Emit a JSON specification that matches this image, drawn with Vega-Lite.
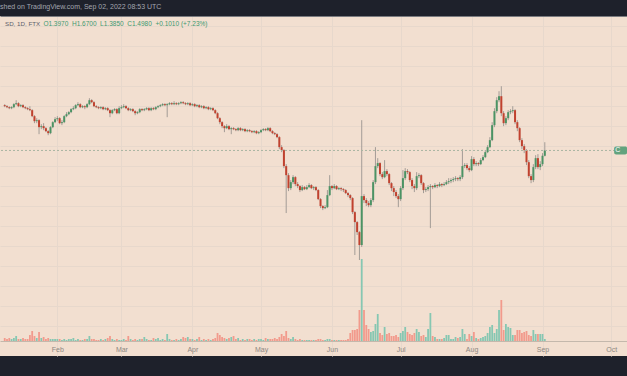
{
  "$schema": "https://vega.github.io/schema/vega-lite/v6.json",
  "width": 627,
  "height": 340,
  "autosize": {"type": "none"},
  "padding": {"top": 16, "left": 0, "right": 0, "bottom": 20},
  "background": "#1e212b",
  "title": {"text": "shed on TradingView.com, Sep 02, 2022 08:53 UTC", "anchor": "start", "frame": "group", "font": "Liberation Sans", "fontSize": 7, "fontWeight": "normal", "color": "#a3a6af", "offset": 6, "baseline": "top"},
  "config": {
    "view": {"fill": "#f2dfd0", "stroke": "transparent", "strokeWidth": 0},
    "font": "Liberation Sans",
    "axisX": {"title": null, "ticks": false, "labelFlush": false, "labelOverlap": false, "labelFont": "Liberation Sans", "labelFontSize": 7, "labelColor": "#8d8782", "labelPadding": 4, "domainColor": "#c4b8ac", "gridColor": "#e7d8cc", "gridWidth": 1},
    "axisY": {"title": null, "labels": false, "ticks": false, "domain": false, "gridColor": "#e7d8cc", "gridWidth": 1}
  },
  "datasets": {
    "ohlc": [
      {"date":"2022-01-09","open":2.719,"high":2.755,"low":2.648,"close":2.683,"volume":30},
      {"date":"2022-01-10","open":2.683,"high":2.719,"low":2.614,"close":2.648,"volume":20},
      {"date":"2022-01-11","open":2.648,"high":2.683,"low":2.580,"close":2.614,"volume":30},
      {"date":"2022-01-12","open":2.614,"high":2.683,"low":2.580,"close":2.648,"volume":20},
      {"date":"2022-01-13","open":2.648,"high":2.791,"low":2.614,"close":2.755,"volume":30},
      {"date":"2022-01-14","open":2.755,"high":2.904,"low":2.719,"close":2.791,"volume":50},
      {"date":"2022-01-15","open":2.791,"high":2.828,"low":2.648,"close":2.683,"volume":20},
      {"date":"2022-01-16","open":2.683,"high":2.755,"low":2.648,"close":2.719,"volume":20},
      {"date":"2022-01-17","open":2.719,"high":2.755,"low":2.614,"close":2.648,"volume":30},
      {"date":"2022-01-18","open":2.648,"high":2.683,"low":2.580,"close":2.614,"volume":20},
      {"date":"2022-01-19","open":2.614,"high":2.648,"low":2.546,"close":2.580,"volume":20},
      {"date":"2022-01-20","open":2.580,"high":2.683,"low":2.513,"close":2.546,"volume":60},
      {"date":"2022-01-21","open":2.546,"high":2.580,"low":2.322,"close":2.353,"volume":100},
      {"date":"2022-01-22","open":2.353,"high":2.384,"low":2.146,"close":2.203,"volume":50},
      {"date":"2022-01-23","open":2.203,"high":2.291,"low":2.146,"close":2.232,"volume":30},
      {"date":"2022-01-24","open":2.232,"high":2.261,"low":1.856,"close":2.036,"volume":90},
      {"date":"2022-01-25","open":2.036,"high":2.117,"low":1.983,"close":2.063,"volume":30},
      {"date":"2022-01-26","open":2.063,"high":2.146,"low":1.957,"close":2.009,"volume":40},
      {"date":"2022-01-27","open":2.009,"high":2.036,"low":1.906,"close":1.931,"volume":20},
      {"date":"2022-01-28","open":1.931,"high":1.957,"low":1.832,"close":1.881,"volume":30},
      {"date":"2022-01-29","open":1.881,"high":2.063,"low":1.856,"close":2.036,"volume":20},
      {"date":"2022-01-30","open":2.036,"high":2.203,"low":2.009,"close":2.174,"volume":20},
      {"date":"2022-01-31","open":2.174,"high":2.322,"low":2.146,"close":2.261,"volume":20},
      {"date":"2022-02-01","open":2.261,"high":2.353,"low":2.203,"close":2.291,"volume":20},
      {"date":"2022-02-02","open":2.291,"high":2.322,"low":2.117,"close":2.146,"volume":20},
      {"date":"2022-02-03","open":2.146,"high":2.232,"low":2.090,"close":2.174,"volume":10},
      {"date":"2022-02-04","open":2.174,"high":2.384,"low":2.146,"close":2.353,"volume":20},
      {"date":"2022-02-05","open":2.353,"high":2.480,"low":2.322,"close":2.415,"volume":10},
      {"date":"2022-02-06","open":2.415,"high":2.513,"low":2.384,"close":2.480,"volume":20},
      {"date":"2022-02-07","open":2.480,"high":2.614,"low":2.447,"close":2.580,"volume":20},
      {"date":"2022-02-08","open":2.580,"high":2.683,"low":2.546,"close":2.614,"volume":30},
      {"date":"2022-02-09","open":2.614,"high":2.755,"low":2.580,"close":2.719,"volume":10},
      {"date":"2022-02-10","open":2.719,"high":2.828,"low":2.683,"close":2.755,"volume":20},
      {"date":"2022-02-11","open":2.755,"high":2.791,"low":2.614,"close":2.648,"volume":10},
      {"date":"2022-02-12","open":2.648,"high":2.719,"low":2.614,"close":2.683,"volume":10},
      {"date":"2022-02-13","open":2.683,"high":2.719,"low":2.580,"close":2.648,"volume":20},
      {"date":"2022-02-14","open":2.648,"high":2.791,"low":2.614,"close":2.755,"volume":20},
      {"date":"2022-02-15","open":2.755,"high":2.981,"low":2.719,"close":2.904,"volume":50},
      {"date":"2022-02-16","open":2.904,"high":2.942,"low":2.791,"close":2.828,"volume":20},
      {"date":"2022-02-17","open":2.828,"high":2.866,"low":2.648,"close":2.683,"volume":20},
      {"date":"2022-02-18","open":2.683,"high":2.719,"low":2.614,"close":2.648,"volume":10},
      {"date":"2022-02-19","open":2.648,"high":2.683,"low":2.580,"close":2.614,"volume":10},
      {"date":"2022-02-20","open":2.614,"high":2.683,"low":2.580,"close":2.648,"volume":20},
      {"date":"2022-02-21","open":2.648,"high":2.683,"low":2.546,"close":2.580,"volume":10},
      {"date":"2022-02-22","open":2.580,"high":2.648,"low":2.546,"close":2.614,"volume":20},
      {"date":"2022-02-23","open":2.614,"high":2.648,"low":2.513,"close":2.546,"volume":30},
      {"date":"2022-02-24","open":2.546,"high":2.580,"low":2.322,"close":2.447,"volume":50},
      {"date":"2022-02-25","open":2.447,"high":2.580,"low":2.415,"close":2.546,"volume":20},
      {"date":"2022-02-26","open":2.546,"high":2.614,"low":2.513,"close":2.580,"volume":10},
      {"date":"2022-02-27","open":2.580,"high":2.614,"low":2.415,"close":2.447,"volume":20},
      {"date":"2022-02-28","open":2.447,"high":2.683,"low":2.415,"close":2.614,"volume":10},
      {"date":"2022-03-01","open":2.614,"high":2.719,"low":2.580,"close":2.648,"volume":10},
      {"date":"2022-03-02","open":2.648,"high":2.755,"low":2.614,"close":2.683,"volume":20},
      {"date":"2022-03-03","open":2.683,"high":2.719,"low":2.580,"close":2.614,"volume":10},
      {"date":"2022-03-04","open":2.614,"high":2.648,"low":2.513,"close":2.546,"volume":50},
      {"date":"2022-03-05","open":2.546,"high":2.614,"low":2.513,"close":2.580,"volume":20},
      {"date":"2022-03-06","open":2.580,"high":2.614,"low":2.480,"close":2.513,"volume":10},
      {"date":"2022-03-07","open":2.513,"high":2.546,"low":2.384,"close":2.447,"volume":20},
      {"date":"2022-03-08","open":2.447,"high":2.513,"low":2.415,"close":2.480,"volume":10},
      {"date":"2022-03-09","open":2.480,"high":2.614,"low":2.447,"close":2.580,"volume":20},
      {"date":"2022-03-10","open":2.580,"high":2.614,"low":2.513,"close":2.546,"volume":20},
      {"date":"2022-03-11","open":2.546,"high":2.614,"low":2.513,"close":2.580,"volume":40},
      {"date":"2022-03-12","open":2.580,"high":2.648,"low":2.546,"close":2.614,"volume":20},
      {"date":"2022-03-13","open":2.614,"high":2.648,"low":2.513,"close":2.546,"volume":10},
      {"date":"2022-03-14","open":2.546,"high":2.648,"low":2.513,"close":2.614,"volume":10},
      {"date":"2022-03-15","open":2.614,"high":2.648,"low":2.546,"close":2.580,"volume":30},
      {"date":"2022-03-16","open":2.580,"high":2.683,"low":2.546,"close":2.648,"volume":20},
      {"date":"2022-03-17","open":2.648,"high":2.719,"low":2.614,"close":2.683,"volume":30},
      {"date":"2022-03-18","open":2.683,"high":2.755,"low":2.648,"close":2.719,"volume":10},
      {"date":"2022-03-19","open":2.719,"high":2.791,"low":2.683,"close":2.755,"volume":20},
      {"date":"2022-03-20","open":2.755,"high":2.791,"low":2.683,"close":2.719,"volume":10},
      {"date":"2022-03-21","open":2.719,"high":2.791,"low":2.322,"close":2.755,"volume":70},
      {"date":"2022-03-22","open":2.755,"high":2.828,"low":2.719,"close":2.791,"volume":20},
      {"date":"2022-03-23","open":2.791,"high":2.828,"low":2.719,"close":2.755,"volume":10},
      {"date":"2022-03-24","open":2.755,"high":2.866,"low":2.719,"close":2.791,"volume":10},
      {"date":"2022-03-25","open":2.791,"high":2.828,"low":2.719,"close":2.755,"volume":20},
      {"date":"2022-03-26","open":2.755,"high":2.828,"low":2.719,"close":2.791,"volume":10},
      {"date":"2022-03-27","open":2.791,"high":2.866,"low":2.755,"close":2.828,"volume":20},
      {"date":"2022-03-28","open":2.828,"high":2.866,"low":2.755,"close":2.791,"volume":40},
      {"date":"2022-03-29","open":2.791,"high":2.828,"low":2.719,"close":2.755,"volume":30},
      {"date":"2022-03-30","open":2.755,"high":2.828,"low":2.719,"close":2.791,"volume":40},
      {"date":"2022-03-31","open":2.791,"high":2.828,"low":2.683,"close":2.719,"volume":20},
      {"date":"2022-04-01","open":2.719,"high":2.791,"low":2.683,"close":2.755,"volume":20},
      {"date":"2022-04-02","open":2.755,"high":2.791,"low":2.648,"close":2.683,"volume":10},
      {"date":"2022-04-03","open":2.683,"high":2.755,"low":2.648,"close":2.719,"volume":20},
      {"date":"2022-04-04","open":2.719,"high":2.755,"low":2.614,"close":2.648,"volume":40},
      {"date":"2022-04-05","open":2.648,"high":2.719,"low":2.614,"close":2.683,"volume":10},
      {"date":"2022-04-06","open":2.683,"high":2.719,"low":2.580,"close":2.614,"volume":20},
      {"date":"2022-04-07","open":2.614,"high":2.683,"low":2.580,"close":2.648,"volume":10},
      {"date":"2022-04-08","open":2.648,"high":2.683,"low":2.546,"close":2.580,"volume":20},
      {"date":"2022-04-09","open":2.580,"high":2.648,"low":2.546,"close":2.614,"volume":10},
      {"date":"2022-04-10","open":2.614,"high":2.648,"low":2.513,"close":2.546,"volume":20},
      {"date":"2022-04-11","open":2.546,"high":2.580,"low":2.415,"close":2.447,"volume":30},
      {"date":"2022-04-12","open":2.447,"high":2.480,"low":2.261,"close":2.291,"volume":80},
      {"date":"2022-04-13","open":2.291,"high":2.322,"low":2.117,"close":2.174,"volume":60},
      {"date":"2022-04-14","open":2.174,"high":2.203,"low":2.009,"close":2.063,"volume":40},
      {"date":"2022-04-15","open":2.063,"high":2.090,"low":1.906,"close":2.009,"volume":30},
      {"date":"2022-04-16","open":2.009,"high":2.117,"low":1.983,"close":2.063,"volume":20},
      {"date":"2022-04-17","open":2.063,"high":2.090,"low":1.957,"close":1.983,"volume":30},
      {"date":"2022-04-18","open":1.983,"high":2.036,"low":1.856,"close":2.009,"volume":40},
      {"date":"2022-04-19","open":2.009,"high":2.036,"low":1.957,"close":1.983,"volume":50},
      {"date":"2022-04-20","open":1.983,"high":2.009,"low":1.931,"close":1.957,"volume":20},
      {"date":"2022-04-21","open":1.957,"high":2.036,"low":1.931,"close":2.009,"volume":30},
      {"date":"2022-04-22","open":2.009,"high":2.036,"low":1.931,"close":1.957,"volume":10},
      {"date":"2022-04-23","open":1.957,"high":2.009,"low":1.931,"close":1.983,"volume":20},
      {"date":"2022-04-24","open":1.983,"high":2.009,"low":1.906,"close":1.931,"volume":10},
      {"date":"2022-04-25","open":1.931,"high":1.983,"low":1.906,"close":1.957,"volume":20},
      {"date":"2022-04-26","open":1.957,"high":1.983,"low":1.906,"close":1.931,"volume":20},
      {"date":"2022-04-27","open":1.931,"high":1.957,"low":1.881,"close":1.906,"volume":10},
      {"date":"2022-04-28","open":1.906,"high":1.957,"low":1.881,"close":1.931,"volume":20},
      {"date":"2022-04-29","open":1.931,"high":1.957,"low":1.856,"close":1.881,"volume":10},
      {"date":"2022-04-30","open":1.881,"high":1.931,"low":1.856,"close":1.906,"volume":20},
      {"date":"2022-05-01","open":1.906,"high":1.983,"low":1.881,"close":1.957,"volume":20},
      {"date":"2022-05-02","open":1.957,"high":2.009,"low":1.931,"close":1.983,"volume":10},
      {"date":"2022-05-03","open":1.983,"high":2.009,"low":1.931,"close":1.957,"volume":30},
      {"date":"2022-05-04","open":1.957,"high":2.036,"low":1.931,"close":2.009,"volume":20},
      {"date":"2022-05-05","open":2.009,"high":2.036,"low":1.906,"close":1.931,"volume":20},
      {"date":"2022-05-06","open":1.931,"high":1.957,"low":1.856,"close":1.881,"volume":20},
      {"date":"2022-05-07","open":1.881,"high":1.906,"low":1.832,"close":1.856,"volume":30},
      {"date":"2022-05-08","open":1.856,"high":1.881,"low":1.761,"close":1.785,"volume":20},
      {"date":"2022-05-09","open":1.785,"high":1.808,"low":1.524,"close":1.565,"volume":40},
      {"date":"2022-05-10","open":1.565,"high":1.606,"low":1.465,"close":1.504,"volume":70},
      {"date":"2022-05-11","open":1.504,"high":1.524,"low":1.187,"close":1.219,"volume":50},
      {"date":"2022-05-12","open":1.219,"high":1.251,"low":0.657,"close":1.082,"volume":100},
      {"date":"2022-05-13","open":1.082,"high":1.111,"low":0.877,"close":0.912,"volume":30},
      {"date":"2022-05-14","open":0.912,"high":1.014,"low":0.889,"close":0.987,"volume":20},
      {"date":"2022-05-15","open":0.987,"high":1.082,"low":0.962,"close":1.054,"volume":40},
      {"date":"2022-05-16","open":1.054,"high":1.068,"low":0.937,"close":0.962,"volume":20},
      {"date":"2022-05-17","open":0.962,"high":0.987,"low":0.912,"close":0.937,"volume":10},
      {"date":"2022-05-18","open":0.937,"high":0.949,"low":0.866,"close":0.889,"volume":20},
      {"date":"2022-05-19","open":0.889,"high":0.949,"low":0.877,"close":0.924,"volume":10},
      {"date":"2022-05-20","open":0.924,"high":0.937,"low":0.889,"close":0.900,"volume":10},
      {"date":"2022-05-21","open":0.900,"high":0.949,"low":0.889,"close":0.924,"volume":10},
      {"date":"2022-05-22","open":0.924,"high":0.974,"low":0.912,"close":0.949,"volume":10},
      {"date":"2022-05-23","open":0.949,"high":0.962,"low":0.900,"close":0.912,"volume":10},
      {"date":"2022-05-24","open":0.912,"high":0.937,"low":0.889,"close":0.924,"volume":10},
      {"date":"2022-05-25","open":0.924,"high":0.937,"low":0.877,"close":0.889,"volume":10},
      {"date":"2022-05-26","open":0.889,"high":0.900,"low":0.779,"close":0.789,"volume":20},
      {"date":"2022-05-27","open":0.789,"high":0.800,"low":0.701,"close":0.720,"volume":20},
      {"date":"2022-05-28","open":0.720,"high":0.729,"low":0.683,"close":0.701,"volume":10},
      {"date":"2022-05-29","open":0.701,"high":0.729,"low":0.692,"close":0.710,"volume":10},
      {"date":"2022-05-30","open":0.710,"high":0.889,"low":0.701,"close":0.832,"volume":20},
      {"date":"2022-05-31","open":0.832,"high":1.082,"low":0.821,"close":0.937,"volume":20},
      {"date":"2022-06-01","open":0.937,"high":0.949,"low":0.889,"close":0.912,"volume":10},
      {"date":"2022-06-02","open":0.912,"high":0.962,"low":0.900,"close":0.937,"volume":10},
      {"date":"2022-06-03","open":0.937,"high":0.949,"low":0.889,"close":0.900,"volume":10},
      {"date":"2022-06-04","open":0.900,"high":0.924,"low":0.889,"close":0.912,"volume":10},
      {"date":"2022-06-05","open":0.912,"high":0.924,"low":0.877,"close":0.900,"volume":10},
      {"date":"2022-06-06","open":0.900,"high":0.912,"low":0.866,"close":0.889,"volume":10},
      {"date":"2022-06-07","open":0.889,"high":0.900,"low":0.843,"close":0.854,"volume":10},
      {"date":"2022-06-08","open":0.854,"high":0.866,"low":0.810,"close":0.832,"volume":20},
      {"date":"2022-06-09","open":0.832,"high":0.843,"low":0.779,"close":0.800,"volume":80},
      {"date":"2022-06-10","open":0.800,"high":0.810,"low":0.648,"close":0.665,"volume":110},
      {"date":"2022-06-11","open":0.665,"high":0.674,"low":0.378,"close":0.583,"volume":110},
      {"date":"2022-06-12","open":0.583,"high":0.591,"low":0.492,"close":0.511,"volume":120},
      {"date":"2022-06-13","open":0.511,"high":0.518,"low":0.354,"close":0.431,"volume":310},
      {"date":"2022-06-14","open":0.431,"high":2.232,"low":0.420,"close":0.821,"volume":820},
      {"date":"2022-06-15","open":0.821,"high":0.843,"low":0.749,"close":0.779,"volume":310},
      {"date":"2022-06-16","open":0.779,"high":0.800,"low":0.720,"close":0.749,"volume":160},
      {"date":"2022-06-17","open":0.749,"high":0.769,"low":0.710,"close":0.729,"volume":120},
      {"date":"2022-06-18","open":0.729,"high":0.800,"low":0.710,"close":0.779,"volume":90},
      {"date":"2022-06-19","open":0.779,"high":1.014,"low":0.759,"close":0.987,"volume":100},
      {"date":"2022-06-20","open":0.987,"high":1.565,"low":0.962,"close":1.219,"volume":170},
      {"date":"2022-06-21","open":1.219,"high":1.354,"low":1.187,"close":1.268,"volume":270},
      {"date":"2022-06-22","open":1.268,"high":1.284,"low":1.068,"close":1.097,"volume":80},
      {"date":"2022-06-23","open":1.097,"high":1.126,"low":1.027,"close":1.054,"volume":60},
      {"date":"2022-06-24","open":1.054,"high":1.319,"low":1.040,"close":1.141,"volume":140},
      {"date":"2022-06-25","open":1.141,"high":1.171,"low":1.068,"close":1.097,"volume":70},
      {"date":"2022-06-26","open":1.097,"high":1.111,"low":0.949,"close":0.974,"volume":80},
      {"date":"2022-06-27","open":0.974,"high":0.987,"low":0.877,"close":0.912,"volume":50},
      {"date":"2022-06-28","open":0.912,"high":0.937,"low":0.821,"close":0.866,"volume":50},
      {"date":"2022-06-29","open":0.866,"high":0.889,"low":0.800,"close":0.821,"volume":60},
      {"date":"2022-06-30","open":0.821,"high":0.843,"low":0.710,"close":0.789,"volume":40},
      {"date":"2022-07-01","open":0.789,"high":0.937,"low":0.769,"close":0.912,"volume":80},
      {"date":"2022-07-02","open":0.912,"high":1.156,"low":0.889,"close":1.040,"volume":100},
      {"date":"2022-07-03","open":1.040,"high":1.187,"low":1.014,"close":1.141,"volume":140},
      {"date":"2022-07-04","open":1.141,"high":1.171,"low":1.097,"close":1.126,"volume":90},
      {"date":"2022-07-05","open":1.126,"high":1.141,"low":0.987,"close":1.014,"volume":70},
      {"date":"2022-07-06","open":1.014,"high":1.040,"low":0.900,"close":0.937,"volume":60},
      {"date":"2022-07-07","open":0.937,"high":0.962,"low":0.866,"close":0.912,"volume":80},
      {"date":"2022-07-08","open":0.912,"high":1.126,"low":0.889,"close":1.068,"volume":120},
      {"date":"2022-07-09","open":1.068,"high":1.111,"low":1.040,"close":1.082,"volume":90},
      {"date":"2022-07-10","open":1.082,"high":1.097,"low":0.949,"close":0.974,"volume":50},
      {"date":"2022-07-11","open":0.974,"high":0.987,"low":0.854,"close":0.889,"volume":60},
      {"date":"2022-07-12","open":0.889,"high":0.924,"low":0.866,"close":0.900,"volume":40},
      {"date":"2022-07-13","open":0.900,"high":0.949,"low":0.877,"close":0.924,"volume":120},
      {"date":"2022-07-14","open":0.924,"high":0.962,"low":0.539,"close":0.937,"volume":280},
      {"date":"2022-07-15","open":0.937,"high":0.949,"low":0.900,"close":0.924,"volume":50},
      {"date":"2022-07-16","open":0.924,"high":0.974,"low":0.912,"close":0.949,"volume":40},
      {"date":"2022-07-17","open":0.949,"high":0.962,"low":0.912,"close":0.937,"volume":20},
      {"date":"2022-07-18","open":0.937,"high":0.987,"low":0.924,"close":0.962,"volume":20},
      {"date":"2022-07-19","open":0.962,"high":0.974,"low":0.924,"close":0.949,"volume":20},
      {"date":"2022-07-20","open":0.949,"high":0.987,"low":0.937,"close":0.962,"volume":30},
      {"date":"2022-07-21","open":0.962,"high":1.014,"low":0.949,"close":0.987,"volume":60},
      {"date":"2022-07-22","open":0.987,"high":1.040,"low":0.962,"close":1.000,"volume":60},
      {"date":"2022-07-23","open":1.000,"high":1.040,"low":0.974,"close":1.014,"volume":20},
      {"date":"2022-07-24","open":1.014,"high":1.054,"low":0.987,"close":1.027,"volume":20},
      {"date":"2022-07-25","open":1.027,"high":1.068,"low":1.000,"close":1.040,"volume":40},
      {"date":"2022-07-26","open":1.040,"high":1.054,"low":1.000,"close":1.027,"volume":30},
      {"date":"2022-07-27","open":1.027,"high":1.082,"low":1.000,"close":1.054,"volume":40},
      {"date":"2022-07-28","open":1.054,"high":1.524,"low":1.027,"close":1.219,"volume":120},
      {"date":"2022-07-29","open":1.219,"high":1.268,"low":1.187,"close":1.235,"volume":70},
      {"date":"2022-07-30","open":1.235,"high":1.268,"low":1.156,"close":1.187,"volume":20},
      {"date":"2022-07-31","open":1.187,"high":1.219,"low":1.126,"close":1.156,"volume":70},
      {"date":"2022-08-01","open":1.156,"high":1.390,"low":1.141,"close":1.336,"volume":50},
      {"date":"2022-08-02","open":1.336,"high":1.372,"low":1.219,"close":1.251,"volume":90},
      {"date":"2022-08-03","open":1.251,"high":1.301,"low":1.219,"close":1.268,"volume":30},
      {"date":"2022-08-04","open":1.268,"high":1.284,"low":1.219,"close":1.251,"volume":20},
      {"date":"2022-08-05","open":1.251,"high":1.354,"low":1.235,"close":1.319,"volume":30},
      {"date":"2022-08-06","open":1.319,"high":1.408,"low":1.301,"close":1.372,"volume":40},
      {"date":"2022-08-07","open":1.372,"high":1.504,"low":1.354,"close":1.465,"volume":50},
      {"date":"2022-08-08","open":1.465,"high":1.606,"low":1.446,"close":1.565,"volume":80},
      {"date":"2022-08-09","open":1.565,"high":1.785,"low":1.544,"close":1.716,"volume":140},
      {"date":"2022-08-10","open":1.716,"high":2.174,"low":1.693,"close":2.090,"volume":160},
      {"date":"2022-08-11","open":2.090,"high":2.614,"low":2.036,"close":2.513,"volume":80},
      {"date":"2022-08-12","open":2.513,"high":3.021,"low":2.447,"close":2.904,"volume":120},
      {"date":"2022-08-13","open":2.904,"high":3.269,"low":2.828,"close":3.061,"volume":310},
      {"date":"2022-08-14","open":3.061,"high":3.491,"low":2.353,"close":2.447,"volume":410},
      {"date":"2022-08-15","open":2.447,"high":2.513,"low":2.063,"close":2.146,"volume":110},
      {"date":"2022-08-16","open":2.146,"high":2.353,"low":2.090,"close":2.291,"volume":170},
      {"date":"2022-08-17","open":2.291,"high":2.546,"low":2.232,"close":2.480,"volume":140},
      {"date":"2022-08-18","open":2.480,"high":2.580,"low":2.415,"close":2.513,"volume":130},
      {"date":"2022-08-19","open":2.513,"high":2.683,"low":2.447,"close":2.546,"volume":60},
      {"date":"2022-08-20","open":2.546,"high":2.580,"low":2.117,"close":2.174,"volume":60},
      {"date":"2022-08-21","open":2.174,"high":2.232,"low":1.931,"close":2.009,"volume":110},
      {"date":"2022-08-22","open":2.009,"high":2.036,"low":1.671,"close":1.716,"volume":110},
      {"date":"2022-08-23","open":1.716,"high":1.761,"low":1.524,"close":1.585,"volume":80},
      {"date":"2022-08-24","open":1.585,"high":1.628,"low":1.446,"close":1.504,"volume":90},
      {"date":"2022-08-25","open":1.504,"high":1.524,"low":1.235,"close":1.284,"volume":100},
      {"date":"2022-08-26","open":1.284,"high":1.319,"low":1.040,"close":1.068,"volume":60},
      {"date":"2022-08-27","open":1.068,"high":1.097,"low":0.974,"close":1.014,"volume":50},
      {"date":"2022-08-28","open":1.014,"high":1.251,"low":0.987,"close":1.203,"volume":110},
      {"date":"2022-08-29","open":1.203,"high":1.408,"low":1.171,"close":1.354,"volume":70},
      {"date":"2022-08-30","open":1.354,"high":1.427,"low":1.171,"close":1.203,"volume":70},
      {"date":"2022-08-31","open":1.203,"high":1.301,"low":1.156,"close":1.251,"volume":70},
      {"date":"2022-09-01","open":1.251,"high":1.446,"low":1.219,"close":1.397,"volume":70},
      {"date":"2022-09-02","open":1.397,"high":1.670,"low":1.385,"close":1.498,"volume":20}
    ]
  },
  "data": {"name": "ohlc"},
  "layer": [
    {
      "mark": {"type": "bar", "width": 1.8, "clip": true},
      "encoding": {
        "x": {"field": "date", "type": "temporal",
              "scale": {"type": "utc", "nice": false, "domain": [{"year": 2022, "month": 1, "date": 9, "hours": 2, "minutes": 58, "utc": true}, {"year": 2022, "month": 10, "date": 5, "hours": 17, "minutes": 37, "utc": true}]},
              "axis": {"orient": "top", "labels": false, "ticks": false, "grid": false, "domain": true, "domainColor": "#7a7b80"}},
        "y": {"field": "volume", "type": "quantitative", "scale": {"domain": [-150, 3250], "nice": false, "zero": false}, "axis": null},
        "color": {"condition": {"test": "datum.close >= datum.open", "value": "#86c7b2"}, "value": "#f29a8c"}
      }
    },
    {
      "layer": [
        {
          "mark": {"type": "rule", "color": "#a39c96", "strokeWidth": 1, "clip": true},
          "encoding": {
            "x": {"field": "date", "type": "temporal",
                  "scale": {"type": "utc", "nice": false, "domain": [{"year": 2022, "month": 1, "date": 9, "hours": 2, "minutes": 58, "utc": true}, {"year": 2022, "month": 10, "date": 5, "hours": 17, "minutes": 37, "utc": true}]},
                  "axis": {"orient": "bottom", "offset": -15, "grid": true,
                           "values": [{"year": 2022, "month": 2, "date": 1, "utc": true}, {"year": 2022, "month": 3, "date": 1, "utc": true}, {"year": 2022, "month": 4, "date": 1, "utc": true}, {"year": 2022, "month": 5, "date": 1, "utc": true}, {"year": 2022, "month": 6, "date": 1, "utc": true}, {"year": 2022, "month": 7, "date": 1, "utc": true}, {"year": 2022, "month": 8, "date": 1, "utc": true}, {"year": 2022, "month": 9, "date": 1, "utc": true}, {"year": 2022, "month": 10, "date": 1, "utc": true}],
                           "labelExpr": "utcFormat(datum.value, '%b')"}},
            "y": {"field": "low", "type": "quantitative", "scale": {"type": "log", "domain": [0.1, 8.8], "nice": false},
                  "axis": {"orient": "right", "grid": true,
                           "values": [7.718, 5.932, 4.559, 3.504, 2.693, 2.07, 1.591, 1.223, 0.94, 0.7227, 0.5555, 0.427, 0.3282, 0.2522, 0.1939, 0.149]}},
            "y2": {"field": "high"}
          }
        },
        {
          "mark": {"type": "rule", "strokeWidth": 2, "clip": true},
          "encoding": {
            "x": {"field": "date", "type": "temporal"},
            "y": {"field": "open", "type": "quantitative"},
            "y2": {"field": "close"},
            "color": {"condition": {"test": "datum.close >= datum.open", "value": "#4b9364"}, "value": "#c0412e"}
          }
        },
        {
          "data": {"values": [{"price": 1.498}]},
          "mark": {"type": "rule", "color": "#a9b5a3", "strokeWidth": 1, "strokeDash": [2, 2]},
          "encoding": {
            "y": {"field": "price", "type": "quantitative"}
          }
        },
        {
          "data": {"values": [{"label": "C"}]},
          "mark": {"type": "rect", "color": "#62a37e", "cornerRadius": 2, "clip": true},
          "encoding": {
            "x": {"datum": {"year": 2022, "month": 10, "date": 2, "hours": 7, "utc": true}, "type": "temporal"},
            "x2": {"datum": {"year": 2022, "month": 10, "date": 8, "utc": true}},
            "y": {"datum": 1.58, "type": "quantitative"},
            "y2": {"datum": 1.42}
          }
        },
        {
          "data": {"values": [{"label": "C"}]},
          "mark": {"type": "text", "color": "#ffffff", "font": "Liberation Sans", "fontSize": 7, "align": "left", "baseline": "middle"},
          "encoding": {
            "text": {"field": "label"},
            "x": {"datum": {"year": 2022, "month": 10, "date": 2, "hours": 19, "utc": true}, "type": "temporal"},
            "y": {"datum": 1.498, "type": "quantitative"}
          }
        },
        {
          "data": {"values": [{"label": "SD, 1D, FTX"}]},
          "mark": {"type": "text", "color": "#5d606b", "font": "Liberation Sans", "fontSize": 6.2, "align": "left", "baseline": "middle"},
          "encoding": {
            "text": {"field": "label"},
            "x": {"datum": {"year": 2022, "month": 1, "date": 9, "hours": 3, "utc": true}, "type": "temporal"},
            "y": {"datum": 7.92, "type": "quantitative"}
          }
        },
        {
          "data": {"values": [{"label": "O1.3970\u00a0 H1.6700\u00a0 L1.3850\u00a0 C1.4980\u00a0 +0.1010 (+7.23%)"}]},
          "mark": {"type": "text", "color": "#3d9970", "font": "Liberation Sans", "fontSize": 6.5, "align": "left", "baseline": "middle"},
          "encoding": {
            "text": {"field": "label"},
            "x": {"datum": {"year": 2022, "month": 1, "date": 25, "hours": 21, "minutes": 30, "utc": true}, "type": "temporal"},
            "y": {"datum": 7.92, "type": "quantitative"}
          }
        }
      ]
    }
  ],
  "resolve": {"scale": {"y": "independent"}, "axis": {"x": "independent"}}
}
